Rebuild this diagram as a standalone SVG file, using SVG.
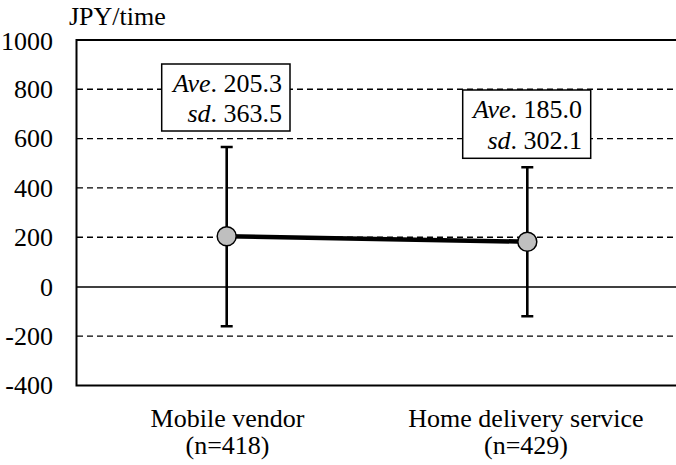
<svg xmlns="http://www.w3.org/2000/svg" width="676" height="465" viewBox="0 0 676 465" font-family="'Liberation Serif', 'DejaVu Serif', serif">
  <style>
    text { font-family: 'Liberation Serif', 'DejaVu Serif', serif; font-size: 26px; fill: #000; }
    .tick { text-anchor: end; }
    .cat { text-anchor: middle; }
    .grid { stroke: #000; stroke-width: 1.4; stroke-dasharray: 6 4; fill: none; }
    .zero { stroke: #000; stroke-width: 1.4; fill: none; }
    .frame { stroke: #000; stroke-width: 2; fill: none; }
    .err { stroke: #000; stroke-width: 2.6; fill: none; }
    .mean { stroke: #000; stroke-width: 4.5; fill: none; }
    .dot { fill: #bfbfbf; stroke: #000; stroke-width: 1.5; }
    .box { fill: #fff; stroke: #000; stroke-width: 1.5; }
    .lbl { text-anchor: end; }
  </style>

  <rect width="676" height="465" fill="#fff"/>

  <!-- axis title and tick labels -->
  <text x="69" y="25">JPY/time</text>
  <g id="y-ticks">
    <text class="tick" x="53" y="49.6">1000</text>
    <text class="tick" x="53" y="98">800</text>
    <text class="tick" x="53" y="147.4">600</text>
    <text class="tick" x="53" y="196.7">400</text>
    <text class="tick" x="53" y="246">200</text>
    <text class="tick" x="53" y="295.8">0</text>
    <text class="tick" x="53" y="345">-200</text>
    <text class="tick" x="53" y="394.3">-400</text>
  </g>

  <!-- gridlines -->
  <g id="grid">
    <line class="grid" x1="77" y1="89.3" x2="676" y2="89.3"/>
    <line class="grid" x1="77" y1="138.6" x2="676" y2="138.6"/>
    <line class="grid" x1="77" y1="187.9" x2="676" y2="187.9"/>
    <line class="grid" x1="77" y1="237.2" x2="676" y2="237.2"/>
    <line class="grid" x1="77" y1="336.1" x2="676" y2="336.1"/>
    <line class="zero" x1="77" y1="287" x2="676" y2="287"/>
  </g>

  <!-- plot frame (right edge runs past the canvas) -->
  <rect class="frame" x="76.5" y="40" width="620" height="345.5"/>

  <!-- category labels -->
  <g id="cat-mobile">
    <text class="cat" x="227.5" y="427">Mobile vendor</text>
    <text class="cat" x="227.5" y="454">(n=418)</text>
  </g>
  <g id="cat-home">
    <text class="cat" x="526" y="427">Home delivery service</text>
    <text class="cat" x="526" y="454">(n=429)</text>
  </g>

  <!-- error bars and mean line -->
  <g id="connectors">
    <path class="err" d="M226.7 147 V326.3 M220.7 147 H232.7 M220.7 326.3 H232.7"/>
    <path class="err" d="M527.3 167.2 V316.2 M521.3 167.2 H533.3 M521.3 316.2 H533.3"/>
    <line class="mean" x1="226.7" y1="236.2" x2="527.3" y2="241.7"/>
  </g>

  <g id="point-mobile">
    <circle class="dot" cx="226.7" cy="236.2" r="9.5"/>
  </g>
  <g id="point-home">
    <circle class="dot" cx="527.3" cy="241.7" r="9.5"/>
  </g>

  <!-- value labels -->
  <g id="label-mobile">
    <rect class="box" x="161.7" y="64" width="128.3" height="67"/>
    <text class="lbl" x="282" y="91.5"><tspan font-style="italic">Ave</tspan>. 205.3</text>
    <text class="lbl" x="282" y="121.5"><tspan font-style="italic">sd</tspan>. 363.5</text>
  </g>
  <g id="label-home">
    <rect class="box" x="462.7" y="90" width="128" height="68.3"/>
    <text class="lbl" x="582" y="118"><tspan font-style="italic">Ave</tspan>. 185.0</text>
    <text class="lbl" x="582" y="148.5"><tspan font-style="italic">sd</tspan>. 302.1</text>
  </g>
</svg>
